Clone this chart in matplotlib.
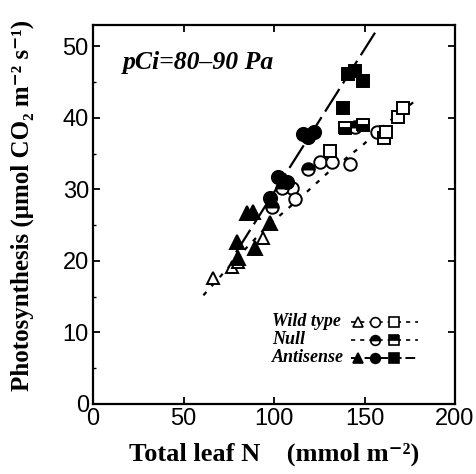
import matplotlib
matplotlib.use("Agg")
import matplotlib.pyplot as plt
from matplotlib.ticker import MultipleLocator

# ---- data ----
wt_tri_x = [66.3, 76.6, 80.3, 94.0]
wt_tri_y = [17.6, 19.1, 19.9, 23.2]
wt_cir_x = [109.8, 111.6, 125.4, 132.0, 142.0, 157.0]
wt_cir_y = [30.2, 28.6, 33.8, 33.9, 33.6, 38.0]
wt_sq_x = [131.0, 161.0, 162.0, 168.5, 171.0]
wt_sq_y = [35.4, 37.2, 38.0, 40.2, 41.4]

null_cir_x = [98.7, 104.2, 119.0, 145.0]
null_cir_y = [27.6, 30.2, 32.8, 38.8]
null_sq_x = [139.2, 149.0]
null_sq_y = [38.6, 39.0]

as_tri_x = [79.4, 84.9, 88.4, 89.5, 97.8, 80.3]
as_tri_y = [22.7, 26.7, 26.9, 21.8, 25.3, 20.4]
as_cir_x = [97.8, 102.2, 107.0, 116.0, 119.0, 122.0]
as_cir_y = [28.8, 31.7, 31.1, 37.8, 37.4, 38.0]
as_sq_x = [138.0, 141.0, 144.5, 149.0]
as_sq_y = [41.4, 46.1, 46.6, 45.1]

# fitted lines
as_line_x = [79.0, 156.0]
as_line_y = [21.2, 52.0]
wt_line_x = [61.0, 81.2, 96.1, 114.4, 130.0, 149.0, 163.0, 177.0]
wt_line_y = [15.2, 20.9, 24.8, 28.8, 32.4, 36.2, 39.4, 42.2]

x_ticks = [0, 50, 100, 150, 200]
y_ticks = [0, 10, 20, 30, 40, 50]

serif = ['Liberation Serif', 'DejaVu Serif']
sans = ['Liberation Sans', 'DejaVu Sans']

fig = plt.figure(figsize=(4.76, 4.74), dpi=100)
ax = fig.add_axes([93/476, 1-404/474, (455-93)/476, (404-25)/474])

# lines
ax.plot(wt_line_x, wt_line_y, color='black', lw=1.6, dashes=(2.0, 3.5), zorder=1)
ax.plot(as_line_x, as_line_y, color='black', lw=1.6, dashes=(12, 3), zorder=1)

ms = 9.0
mew = 1.4
ax.plot(wt_tri_x, wt_tri_y, ls='none', marker='^', ms=ms, mfc='white', mec='black', mew=mew, zorder=3)
ax.plot(wt_cir_x, wt_cir_y, ls='none', marker='o', ms=ms, mfc='white', mec='black', mew=mew, zorder=3)
ax.plot(wt_sq_x, wt_sq_y, ls='none', marker='s', ms=ms-1, mfc='white', mec='black', mew=mew, zorder=3)

ax.plot(null_cir_x, null_cir_y, ls='none', marker='o', ms=ms, fillstyle='top', mfc='black',
        mfcalt='white', mec='black', mew=mew, zorder=4)
ax.plot(null_sq_x, null_sq_y, ls='none', marker='s', ms=ms-1, fillstyle='bottom', mfc='black',
        mfcalt='white', mec='black', mew=mew, zorder=4)

ax.plot(as_tri_x, as_tri_y, ls='none', marker='^', ms=ms+0.5, mfc='black', mec='black', mew=mew, zorder=5)
ax.plot(as_cir_x, as_cir_y, ls='none', marker='o', ms=ms+0.5, mfc='black', mec='black', mew=mew, zorder=5)
ax.plot(as_sq_x, as_sq_y, ls='none', marker='s', ms=ms-0.5, mfc='black', mec='black', mew=mew, zorder=5)

ax.set_xlim(0, 200)
ax.set_ylim(0, 53)
ax.set_xticks(x_ticks)
ax.set_yticks(y_ticks)
ax.yaxis.set_minor_locator(MultipleLocator(5))
ax.tick_params(which='major', direction='in', length=5, width=1.3, top=True, right=True, pad=3)
ax.tick_params(which='minor', direction='in', length=2, width=1.0, top=False, right=False)
for lab in ax.get_xticklabels() + ax.get_yticklabels():
    lab.set_family(sans)
    lab.set_fontsize(17)
for s in ax.spines.values():
    s.set_linewidth(1.6)

ax.set_xlabel('Total leaf N    (mmol m\u207b\u00b2)', family=serif, fontweight='bold', fontsize=19, labelpad=9)
ax.set_ylabel('Photosynthesis (\u03bcmol CO\u2082 m\u207b\u00b2 s\u207b\u00b9)', family=serif, fontweight='bold',
              fontsize=18, labelpad=14)
ax.yaxis.set_label_coords(-0.163, 0.525)

ax.text(16.6, 47.7, 'pCi=80\u201390 Pa', family=serif, fontweight='bold', style='italic', fontsize=18.5,
        va='center', ha='left')

# custom legend
leg_rows = [('Wild type', ['^', 'o', 's'], 'open', 'dot'),
            ('Null', [None, 'o', 's'], 'half', 'dot'),
            ('Antisense', ['^', 'o', 's'], 'filled', 'dash')]
tr = ax.transAxes
def ax_x(px):
    return (px - 93) / (455 - 93)
def ax_y(py):
    return (404 - py) / (404 - 25)
row_py = [322, 340, 358]
for (name, mks, fill, ls), py in zip(leg_rows, row_py):
    yy = ax_y(py)
    ax.text(ax_x(272), yy, name, transform=tr, family=serif, fontweight='bold', style='italic',
            fontsize=13, ha='left', va='center')
    if ls == 'dot':
        ax.plot([ax_x(351), ax_x(418)], [yy, yy], transform=tr, color='black', lw=1.2, dashes=(2.5, 3))
    else:
        ax.plot([ax_x(351), ax_x(418)], [yy, yy], transform=tr, color='black', lw=1.4, dashes=(5, 2))
    for mk, px in zip(mks, [358, 375, 394]):
        if mk is None:
            continue
        kw = dict(ls='none', marker=mk, ms=7 if mk != 's' else 6.5, mec='black', mew=1.2, transform=tr)
        if fill == 'open':
            kw.update(mfc='white')
        elif fill == 'filled':
            kw.update(mfc='black')
        else:
            kw.update(mfc='black', mfcalt='white', fillstyle='top')
        ax.plot([ax_x(px)], [yy], **kw)

fig.savefig('out.png', dpi=100)
